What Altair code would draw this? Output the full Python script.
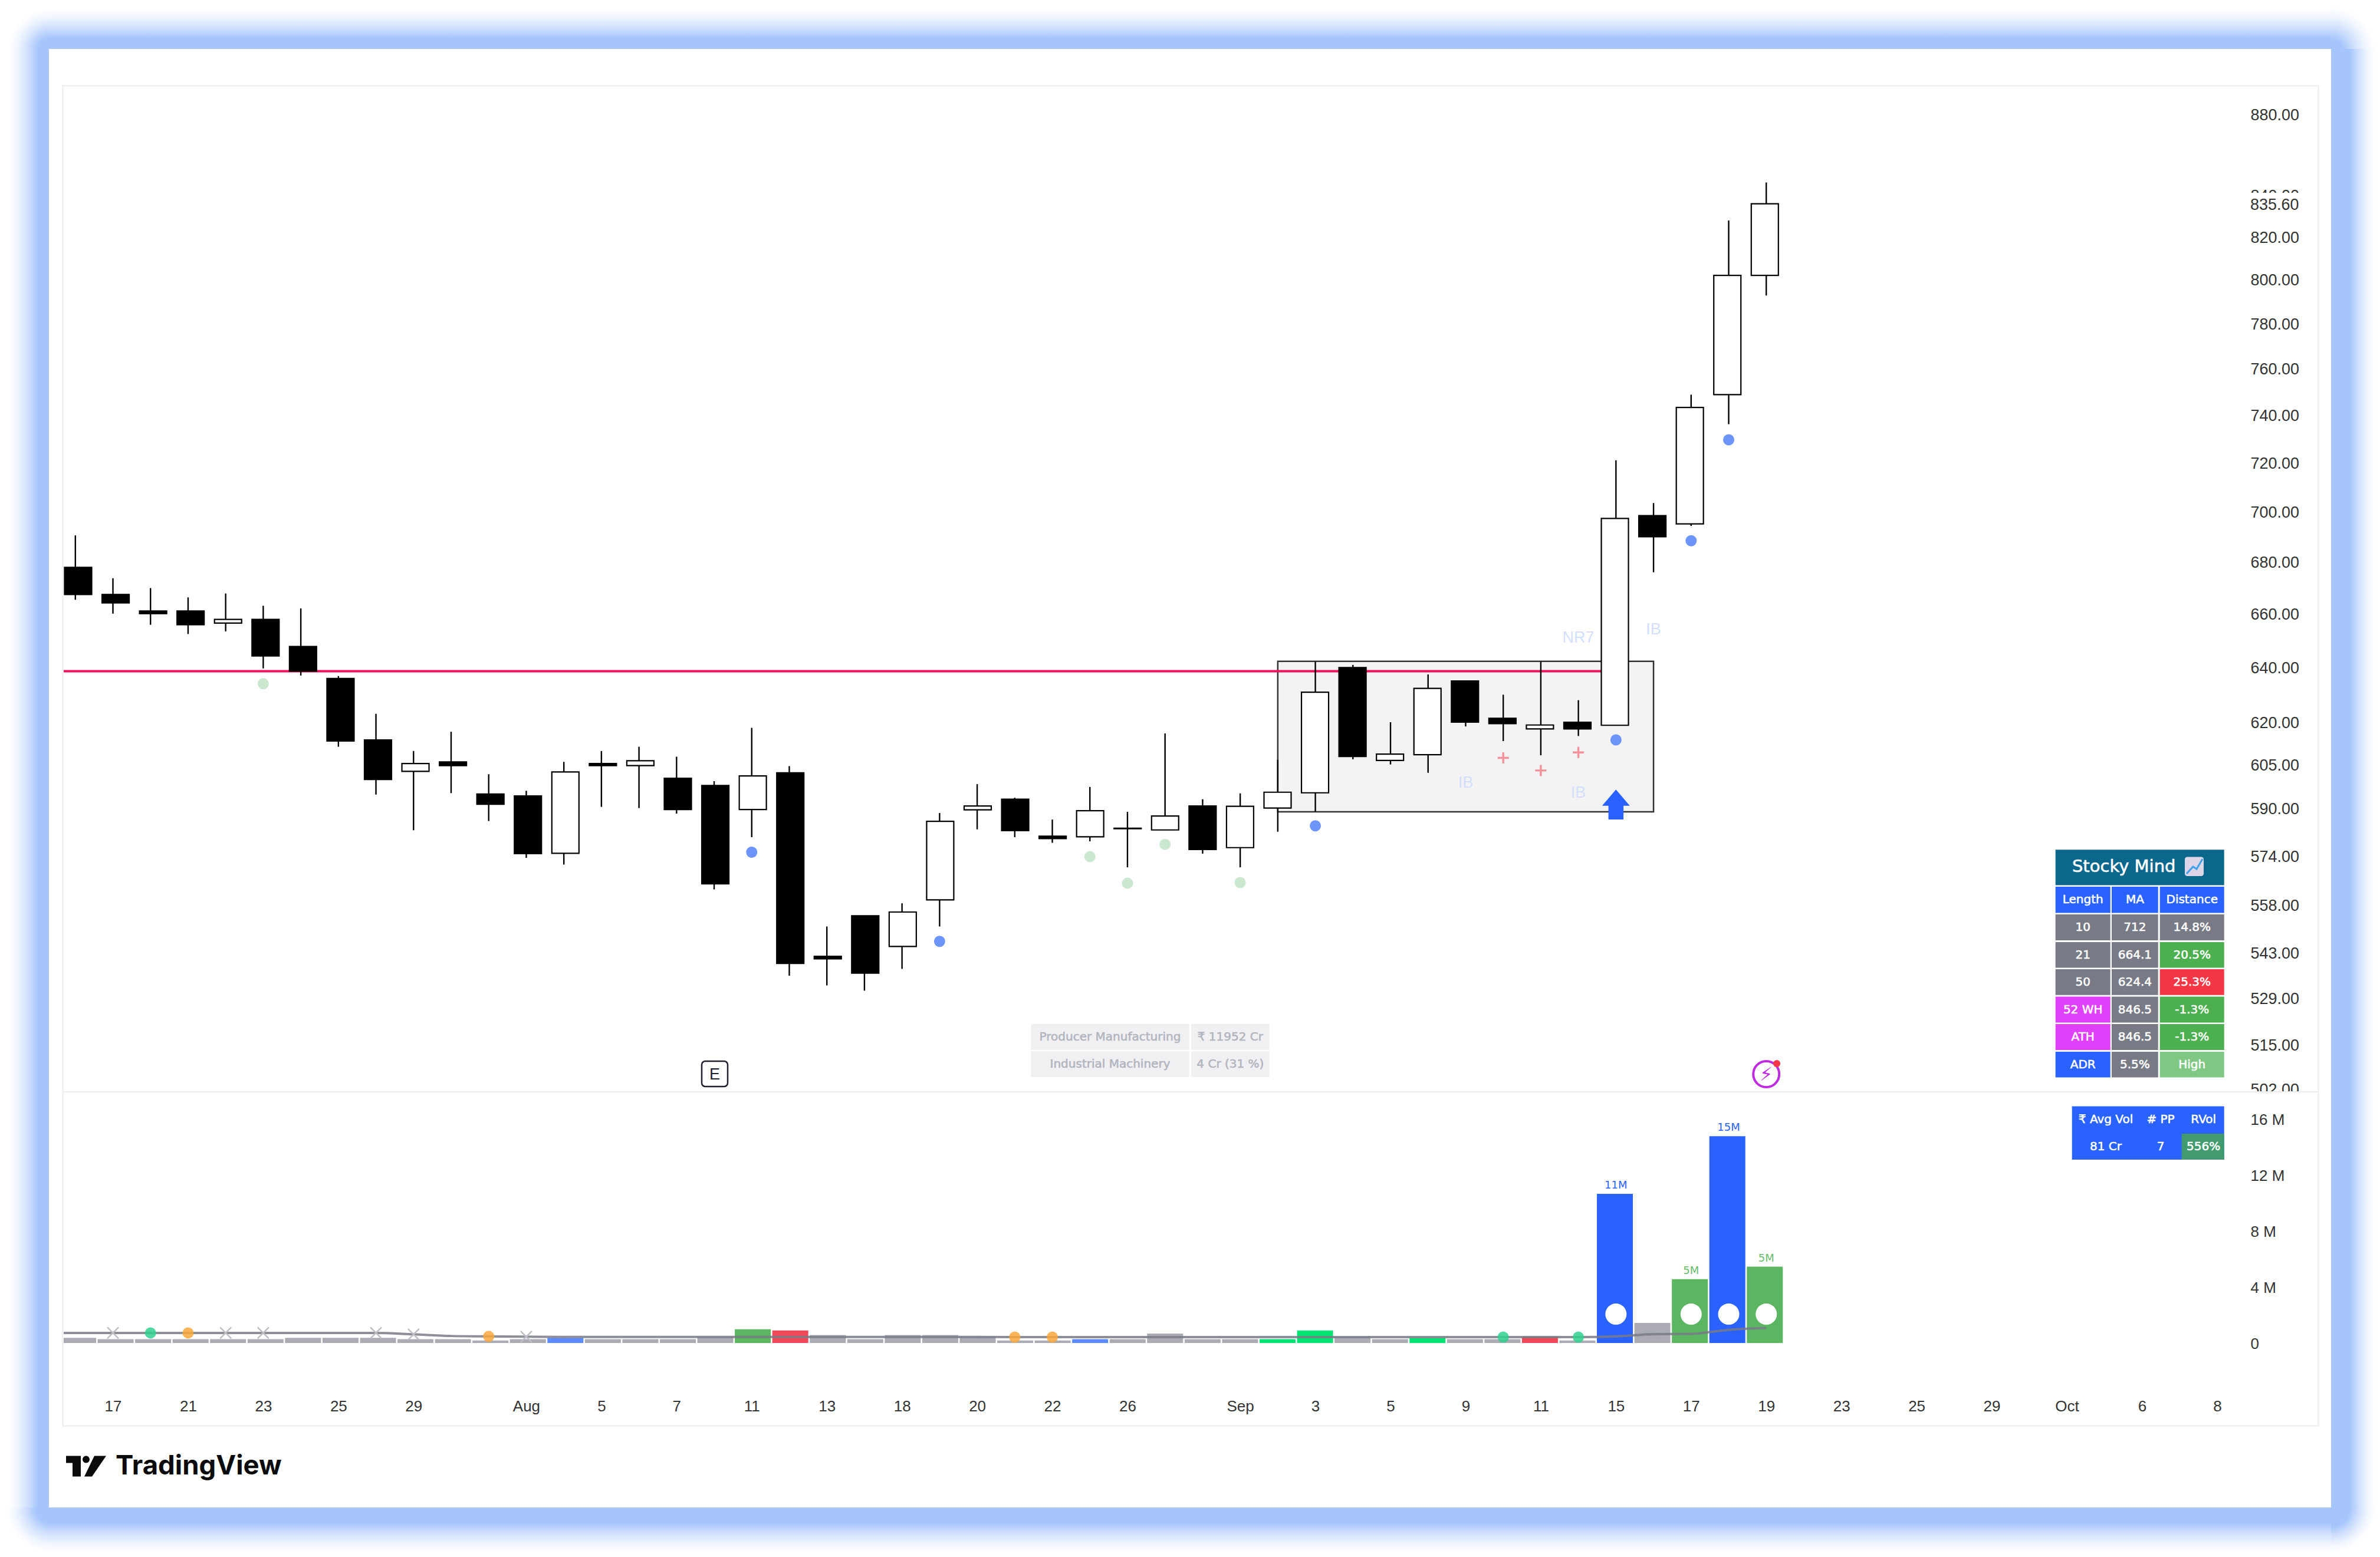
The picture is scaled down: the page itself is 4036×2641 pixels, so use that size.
import json
import altair as alt
import pandas as pd

# ---------- candle data ----------
highs  = [690.3,673.5,669.7,666.1,667.6,662.9,661.9,636.6,622.9,609.7,616.5,601.6,595.9,605.9,609.7,611.2,607.7,599.2,617.9,604.4,551.1,554.5,558.5,588.3,598.2,593.5,586.1,597.2,588.7,615.9,593.0,595.0,606.6,642.0,640.7,619.9,637.2,634.8,629.8,642.0,627.8,720.8,703.3,748.6,827.6,845.9]
opens  = [677.7,667.2,660.9,660.9,656.3,657.7,647.5,635.7,613.6,602.6,605.9,594.8,594.1,574.8,605.3,604.6,600.2,597.7,589.5,602.1,541.7,554.5,544.8,559.6,589.4,593.0,580.5,580.3,583.2,582.6,590.7,576.7,590.0,595.2,639.7,606.4,608.4,634.8,621.3,617.5,619.9,618.8,698.2,694.9,748.6,801.8]
closes = [667.2,664.0,659.9,655.7,657.7,644.0,638.4,613.2,599.8,605.3,604.6,591.3,574.7,602.4,604.6,606.3,589.5,564.8,601.0,539.5,540.9,536.5,555.7,585.5,590.7,582.4,579.7,589.1,583.0,587.3,576.1,590.6,595.4,630.7,607.8,608.6,632.1,619.9,619.4,618.9,617.5,697.1,689.8,743.1,801.8,835.6]
lows   = [665.2,659.9,655.7,652.2,653.2,639.4,636.8,611.2,594.6,582.5,595.1,585.6,573.3,571.1,590.4,590.0,588.1,563.0,580.2,535.7,532.7,531.1,537.8,551.1,582.8,580.2,578.3,578.8,570.2,582.6,574.7,570.2,582.0,588.8,606.8,605.0,602.1,618.4,613.2,608.2,615.0,618.8,675.8,694.1,736.0,792.6]

# ---------- volume data (millions) ----------
volumes = [.37,.27,.27,.27,.27,.27,.37,.37,.37,.27,.27,.18,.27,.37,.27,.27,.27,.45,.98,.89,.57,.27,.57,.57,.45,.18,.18,.27,.27,.67,.27,.27,.27,.89,.45,.27,.37,.27,.27,.45,.18,10.65,1.43,4.56,14.77,5.45]
vol_class = ["gray"]*46
for i, c in {13:"soft",18:"green",19:"red",27:"soft",32:"bright",33:"bright",36:"bright",39:"red",41:"blue",43:"green",44:"blue",45:"green"}.items():
    vol_class[i] = c
vol_avg_idx = [-.32] + list(range(46))
vol_avg = [.72,.72,.72,.72,.72,.72,.72,.72,.72,.72,.62,.50,.47,.45,.43,.43,.43,.43,.43,.43,.43,.43,.43,.43,.43,.43,.42,.42,.42,.42,.42,.42,.42,.42,.42,.42,.42,.42,.42,.42,.42,.42,.47,.63,.65,.94,1.07]

green_dot_idx = [5,27,28,29,31];  green_dot_px = [633.8,573.7,565.0,577.8,565.2]
blue_dot_idx  = [18,23,33,41,43,44]; blue_dot_px = [575.2,546.4,584.0,613.6,688.2,729.4]
plus_idx = [38,39,40]; plus_px = [607.3,602.9,609.2]
note_idx = [40,42,37,40]; note_px = [650.8,653.9,598.6,595.2]; note_txt = ["NR7","IB","IB","IB"]
cross_idx = [1,4,5,8,9,12]; cross_v = [.72,.72,.72,.72,.62,.45]
vdot_idx = [2,3,11,25,26,38,40]; vdot_v = [.72,.72,.47,.42,.42,.42,.42]; vdot_c = ["g","o","o","o","o","g","g"]
big_idx = [41,43,44,45]; big_v = [2.06,2.06,2.06,2.06]
vlabel_idx = [41,44,43,45]; vlabel_v = [10.65,14.77,4.56,5.45]; vlabel_t = ["11M","15M","5M","5M"]; vlabel_c = ["b","b","g","g"]

price_ticks = [880,840,820,800,780,760,740,720,700,680,660,640,620,605,590,574,558,543,529,515,502]
vol_ticks = [0,4,8,12,16]
date_ticks = {1:"17",3:"21",5:"23",7:"25",9:"29",12:"Aug",14:"5",16:"7",18:"11",20:"13",22:"18",24:"20",26:"22",28:"26",31:"Sep",33:"3",35:"5",37:"9",39:"11",41:"15",43:"17",45:"19",47:"23",49:"25",51:"29",53:"Oct",55:"6",57:"8"}

# ---------- layout ----------
W, H = 4020, 2625
OX = OY = 8
px = lambda v: v - OX
BLUE, GRAY, GREEN, RED, MAG, LGREEN = "#2962FF", "#787B86", "#4CAF50", "#F23645", "#E040FB", "#81C784"
GLOW = "#A6C5FB"
TXT = "#333333"
AXF = "Liberation Sans"
TBF = "DejaVu Sans"

x_scale = alt.Scale(domain=[-1.880, 61.208], range=[0, W], nice=False, zero=False)
y_price = alt.Scale(type="log", domain=[501.2, 894.2], range=[1843, 138], nice=False)
y_vol = alt.Scale(domain=[0, 16], range=[2270, 1890], nice=False, zero=False)
X = lambda f="i": alt.X(f"{f}:Q", scale=x_scale, axis=None)
YP = lambda f="p": alt.Y(f"{f}:Q", scale=y_price, axis=None)
YV = lambda f="v": alt.Y(f"{f}:Q", scale=y_vol, axis=None)

one = pd.DataFrame({"a": [0]})

def R(x0, y0, x1, y1, **kw):
    return alt.Chart(one).mark_rect(**kw).encode(
        x=alt.value(px(x0)), x2=alt.value(px(x1)), y=alt.value(px(y0)), y2=alt.value(px(y1)))

def T(x, y, s, **kw):
    return alt.Chart(one).mark_text(**kw).encode(
        x=alt.value(px(x)), y=alt.value(px(y)), text=alt.value(s))

def stops(s):
    return [alt.GradientStop(offset=s, color=GLOW),
            alt.GradientStop(offset=s + (1 - s) * .35, color="#CFE0FC"),
            alt.GradientStop(offset=s + (1 - s) * .7, color="#F0F5FE"),
            alt.GradientStop(offset=1, color="#FFFFFF")]

def lin(s, x1, y1, x2, y2):
    return alt.LinearGradient(gradient="linear", stops=stops(s), x1=x1, y1=y1, x2=x2, y2=y2)

def rad(s, cx, cy):
    return alt.RadialGradient(gradient="radial", stops=stops(s), x1=cx, y1=cy, r1=0, x2=cx, y2=cy, r2=1)

PL, PT, PR, PB = 83, 83, 3953, 2557     # white panel
OL, OT, OR, OB = 15, 15, 4028, 2633     # glow outer
sL, sT, sR, sB = 18/68, 18/68, 32/75, 26/76

frame = [
    R(PL, OT, PR, PT, color=lin(sT, 0, 1, 0, 0)),
    R(PL, PB, PR, OB, color=lin(sB, 0, 0, 0, 1)),
    R(OL, PT, PL, PB, color=lin(sL, 1, 0, 0, 0)),
    R(PR, PT, OR, PB, color=lin(sR, 0, 0, 1, 0)),
    R(OL, OT, PL, PT, color=rad(sL, 1, 1)),
    R(PR, OT, OR, PT, color=rad(sT, 0, 1)),
    R(OL, PB, PL, OB, color=rad(sB, 1, 0)),
    R(PR, PB, OR, OB, color=rad(sR, 0, 0)),
]

# ---------- price pane ----------
n = len(highs)
candles = pd.DataFrame({"i": range(n), "h": highs, "o": opens, "c": closes, "l": lows})
candles["top"] = candles[["o", "c"]].max(axis=1)
candles["bot"] = candles[["o", "c"]].min(axis=1)
candles["dir"] = ["up" if c >= o else "down" for o, c in zip(opens, closes)]

labels = [date_ticks.get(k, "") for k in range(0, 58)]
x_axis = alt.Axis(values=list(date_ticks.keys()), labelExpr=json.dumps(labels) + "[datum.value]",
                  orient="bottom", offset=2377 - H, domain=False, ticks=False, grid=False, title=None,
                  labelFont=AXF, labelFontSize=26, labelColor=TXT, labelPadding=0, labelBaseline="middle",
                  labelOverlap=False, labelFlush=False, labelBound=False, labelAngle=0)
y_axis = alt.Axis(values=price_ticks, format=".2f", orient="right", offset=3808 - W, domain=False, ticks=False,
                  grid=False, title=None, labelFont=AXF, labelFontSize=27, labelColor=TXT, labelPadding=0,
                  labelOffset=2, labelOverlap=False, labelFlush=False, labelBound=False)
v_axis = alt.Axis(values=vol_ticks, labelExpr="datum.value==0?'0':datum.value+' M'", orient="right",
                  offset=3808 - W, domain=False, ticks=False, grid=False, title=None, labelFont=AXF,
                  labelFontSize=26, labelColor=TXT, labelPadding=0, labelOffset=1, labelOverlap=False,
                  labelFlush=False, labelBound=False)

box = alt.Chart(pd.DataFrame({"a": [32], "b": [42], "t": [642.0], "u": [588.7]})).mark_rect(
    color="#F3F3F3", stroke="#333333", strokeWidth=2.5).encode(
    x=X("a"), x2="b:Q", y=YP("t"), y2="u:Q")

resist = alt.Chart(pd.DataFrame({"a": [-.32], "b": [41], "p": [638.4]})).mark_rule(
    color="#EC1358", strokeWidth=4).encode(x=X("a"), x2="b:Q", y=YP())

wicks = alt.Chart(candles).mark_rule(color="#000000", strokeWidth=2.4).encode(
    x=alt.X("i:Q", scale=x_scale, axis=x_axis),
    y=alt.Y("h:Q", scale=y_price, axis=y_axis), y2="l:Q")

bodies = alt.Chart(candles).mark_bar(size=46, stroke="#000000", strokeWidth=2.2, orient="vertical").encode(
    x=X(), y=YP("top"), y2="bot:Q",
    color=alt.Color("dir:N", scale=alt.Scale(domain=["up", "down"], range=["#FFFFFF", "#000000"]), legend=None))

def dots(idx, vals, color, size=361, opacity=1.0):
    d = pd.DataFrame({"i": idx, "p": vals})
    return alt.Chart(d).mark_point(shape="circle", filled=True, size=size, color=color, opacity=opacity, strokeWidth=0).encode(x=X(), y=YP())

PLUS = "M-1,-.18H-.18V-1H.18V-.18H1V.18H.18V1H-.18V.18H-1Z"
pluses = alt.Chart(pd.DataFrame({"i": plus_idx, "p": plus_px})).mark_point(
    shape=PLUS, filled=True, size=361, color="#F2939B", opacity=1, strokeWidth=0).encode(x=X(), y=YP())

notes = alt.Chart(pd.DataFrame({"i": note_idx, "p": note_px, "t": note_txt})).mark_text(
    font=AXF, fontSize=27, color="#D3DFFB", baseline="middle").encode(x=X(), y=YP(), text="t:N")

ARROW = "M0,-1L.927,.081L.503,.081L.503,1L-.503,1L-.503,.081L-.927,.081Z"
arrow = alt.Chart(pd.DataFrame({"i": [41], "p": [591.2]})).mark_point(
    shape=ARROW, filled=True, size=2570, color=BLUE, opacity=1, strokeWidth=0).encode(x=X(), y=YP())

# last price label
last_bg = R(3808, 327, 3905, 366, color="#FFFFFF")
last_lbl = alt.Chart(pd.DataFrame({"p": [835.6], "t": ["835.60"]})).mark_text(
    font=AXF, fontSize=27, color=TXT, align="left", baseline="middle", dy=2).encode(
    x=alt.value(px(3816)), y=YP(), text="t:N")
clip502 = R(3800, 1851, 3925, 1880, color="#FFFFFF")

# ---------- volume pane ----------
vol = pd.DataFrame({"i": range(n), "v": volumes, "k": vol_class})
vol_l = pd.DataFrame({"i": vol_avg_idx, "a": vol_avg})
vol_bars = alt.Chart(vol).mark_bar(size=61, orient="vertical").encode(
    x=X(), y=alt.Y("v:Q", scale=y_vol, axis=v_axis),
    color=alt.Color("k:N", legend=None, scale=alt.Scale(
        domain=["gray", "soft", "green", "red", "bright", "blue"],
        range=["#ABACB3", "#5C8BFF", "#5CB560", "#F04759", "#00E272", BLUE])))
vol_line = alt.Chart(vol_l).mark_line(color=GRAY, strokeWidth=4, opacity=.85, interpolate="monotone").encode(x=X(), y=YV("a"))
XMARK = "M-1,-1L1,1M-1,1L1,-1"
vol_cross = alt.Chart(pd.DataFrame({"i": cross_idx, "v": cross_v})).mark_point(
    shape=XMARK, size=361, color="#BDBFC6", strokeWidth=2.5, filled=False, opacity=1).encode(x=X(), y=YV())
vol_dots = alt.Chart(pd.DataFrame({"i": vdot_idx, "v": vdot_v, "c": vdot_c})).mark_point(
    shape="circle", filled=True, size=361, opacity=.85, strokeWidth=0).encode(
    x=X(), y=YV(), color=alt.Color("c:N", legend=None, scale=alt.Scale(domain=["g", "o"], range=["#2FD08E", "#F9A83C"])))
vol_big = alt.Chart(pd.DataFrame({"i": big_idx, "v": big_v})).mark_point(
    shape="circle", filled=True, size=1296, color="#FFFFFF", opacity=1, strokeWidth=0).encode(x=X(), y=YV())
vol_lbl = alt.Chart(pd.DataFrame({"i": vlabel_idx, "v": vlabel_v, "t": vlabel_t, "c": vlabel_c})).mark_text(
    font=TBF, fontSize=18, baseline="bottom", dy=-5).encode(
    x=X(), y=YV(), text="t:N",
    color=alt.Color("c:N", legend=None, scale=alt.Scale(domain=["b", "g"], range=[BLUE, "#66BB6A"])))

# ---------- tables ----------
ma_col = [3485.7, 3578.7, 3581, 3659.7, 3662.7, 3771.7]
ma_rows = [(1504, 1548.5), (1551, 1595), (1597.9, 1641.5), (1644, 1687.8), (1690.5, 1734.5), (1737, 1781), (1783.9, 1827.5)]
ma_text = [["Length", "MA", "Distance"], ["10", "712", "14.8%"], ["21", "664.1", "20.5%"], ["50", "624.4", "25.3%"],
           ["52 WH", "846.5", "-1.3%"], ["ATH", "846.5", "-1.3%"], ["ADR", "5.5%", "High"]]
ma_fill = [[BLUE, BLUE, BLUE], [GRAY, GRAY, GRAY], [GRAY, GRAY, GREEN], [GRAY, GRAY, RED],
           [MAG, GRAY, GREEN], [MAG, GRAY, GREEN], [BLUE, GRAY, LGREEN]]

cells, texts = [], []
def add_cell(x0, x1, y0, y1, fill, txt=None, col="#FFFFFF", tx=None):
    cells.append({"x0": px(x0), "x1": px(x1), "y0": px(y0), "y1": px(y1), "f": fill})
    if txt is not None:
        texts.append({"x": px(tx if tx else (x0 + x1) / 2), "y": px((y0 + y1) / 2), "t": txt, "f": col})

add_cell(3485.7, 3771.7, 1441.3, 1501.4, "#0C678C")
for r, (y0, y1) in enumerate(ma_rows):
    for c in range(3):
        add_cell(ma_col[2 * c], ma_col[2 * c + 1], y0, y1, ma_fill[r][c], ma_text[r][c])

SEC = "#F0F0F3"; SECT = "#B2B5BE"
sec_text = [["Producer Manufacturing", "₹ 11952 Cr"], ["Industrial Machinery", "4 Cr (31 %)"]]
for r, (y0, y1) in enumerate([(1736.7, 1781), (1783.3, 1827)]):
    add_cell(1748.3, 2016.7, y0, y1, SEC, sec_text[r][0], SECT)
    add_cell(2020, 2152.7, y0, y1, SEC, sec_text[r][1], SECT)

add_cell(3513.7, 3771.7, 1876.5, 1967, BLUE)
add_cell(3699.7, 3771.7, 1923, 1967, "#429B6F")
for tx, a, b in [(3571, "₹ Avg Vol", "81 Cr"), (3664, "# PP", "7"), (3736.7, "RVol", "556%")]:
    texts.append({"x": px(tx), "y": px(1899), "t": a, "f": "#FFFFFF"})
    texts.append({"x": px(tx), "y": px(1945), "t": b, "f": "#FFFFFF"})

cell_layer = alt.Chart(pd.DataFrame(cells)).mark_rect().encode(
    x=alt.X("x0:Q", scale=None, axis=None), x2="x1:Q",
    y=alt.Y("y0:Q", scale=None, axis=None), y2="y1:Q",
    color=alt.Color("f:N", scale=None, legend=None))
text_layer = alt.Chart(pd.DataFrame(texts)).mark_text(font=TBF, fontSize=20, baseline="middle", strokeWidth=.6).encode(
    x=alt.X("x:Q", scale=None, axis=None), y=alt.Y("y:Q", scale=None, axis=None),
    text="t:N", color=alt.Color("f:N", scale=None, legend=None),
    stroke=alt.Stroke("f:N", scale=None, legend=None))

title_txt = T(3601.7, 1470, "Stocky Mind", font=TBF, fontSize=29, color="#FFFFFF", baseline="middle", stroke="#FFFFFF", strokeWidth=.6)
icon_bg = R(3705, 1453.6, 3737, 1486, color="#DDD5E8", cornerRadius=4)
icon_line = alt.Chart(pd.DataFrame({"x": [px(3708), px(3719), px(3725), px(3735)], "y": [px(1482), px(1470), px(1474), px(1457)]})).mark_line(
    color="#3FA0E8", strokeWidth=3).encode(
    x=alt.X("x:Q", scale=None, axis=None), y=alt.Y("y:Q", scale=None, axis=None))

# ---------- pane furniture ----------
mask_left = R(84, 144, 105, 2420, color="#FFFFFF")
border = R(106.5, 145.5, 3931.5, 2418.5, fillOpacity=0, stroke="#F2F2F2", strokeWidth=3)
separator = R(107, 1851, 3930, 1853, color="#ECECEC")

e_box = R(1190, 1800, 1234, 1843, color="#FFFFFF", stroke="#1E222D", strokeWidth=2.5, cornerRadius=6)
e_txt = T(1212, 1823, "E", font=AXF, fontSize=27, color="#1E222D", baseline="middle")
bolt_c = alt.Chart(pd.DataFrame({"i": [45]})).mark_point(shape="circle", size=1936, color="#BE2ADF", strokeWidth=4, filled=False, opacity=1).encode(
    x=X(), y=alt.value(px(1822)))
bolt_t = alt.Chart(pd.DataFrame({"i": [45]})).mark_text(text="⚡", font=TBF, fontSize=32, color="#BE2ADF", baseline="middle").encode(
    x=X(), y=alt.value(px(1823)))
bolt_d = alt.Chart(pd.DataFrame({"i": [45.28]})).mark_point(shape="circle", size=144, color=RED, filled=True, opacity=1, strokeWidth=0).encode(
    x=X(), y=alt.value(px(1804)))

LOGO = ("M-1,-.515L-.265,-.515L-.265,.515L-.676,.515L-.676,-.162L-1,-.162Z"
        "M-.176,-.338A.176,.176 0 1 0 .176,-.338A.176,.176 0 1 0 -.176,-.338Z"
        "M.412,-.515L1,-.515L.294,.515L-.088,.515Z")
logo = alt.Chart(one).mark_point(shape=LOGO, filled=True, size=4624, color="#0B0B0B", opacity=1, strokeWidth=0).encode(
    x=alt.value(px(146)), y=alt.value(px(2487)))
logo_txt = T(196, 2487, "TradingView", font="Inter", fontSize=45.5, fontWeight=700, color="#0B0B0B", align="left", baseline="middle")

chart = alt.layer(
    *frame,
    box, resist, wicks, bodies,
    dots(green_dot_idx, green_dot_px, "#CBE7CD"),
    dots(blue_dot_idx, blue_dot_px, "#6D94FB"),
    pluses, notes, arrow,
    last_bg, last_lbl, clip502,
    vol_bars, vol_line, vol_cross, vol_dots, vol_big, vol_lbl,
    cell_layer, text_layer, title_txt, icon_bg, icon_line,
    e_box, e_txt, bolt_c, bolt_t, bolt_d,
    mask_left, border, separator,
    logo, logo_txt,
).resolve_scale(x="independent", y="independent", color="independent", stroke="independent").properties(
    width=W, height=H, padding=0, background="#FFFFFF",
    autosize=alt.AutoSizeParams(type="none", contains="padding"),
).configure_view(stroke=None)

chart.save("out.html", embed_options={"renderer": "svg", "actions": False})
